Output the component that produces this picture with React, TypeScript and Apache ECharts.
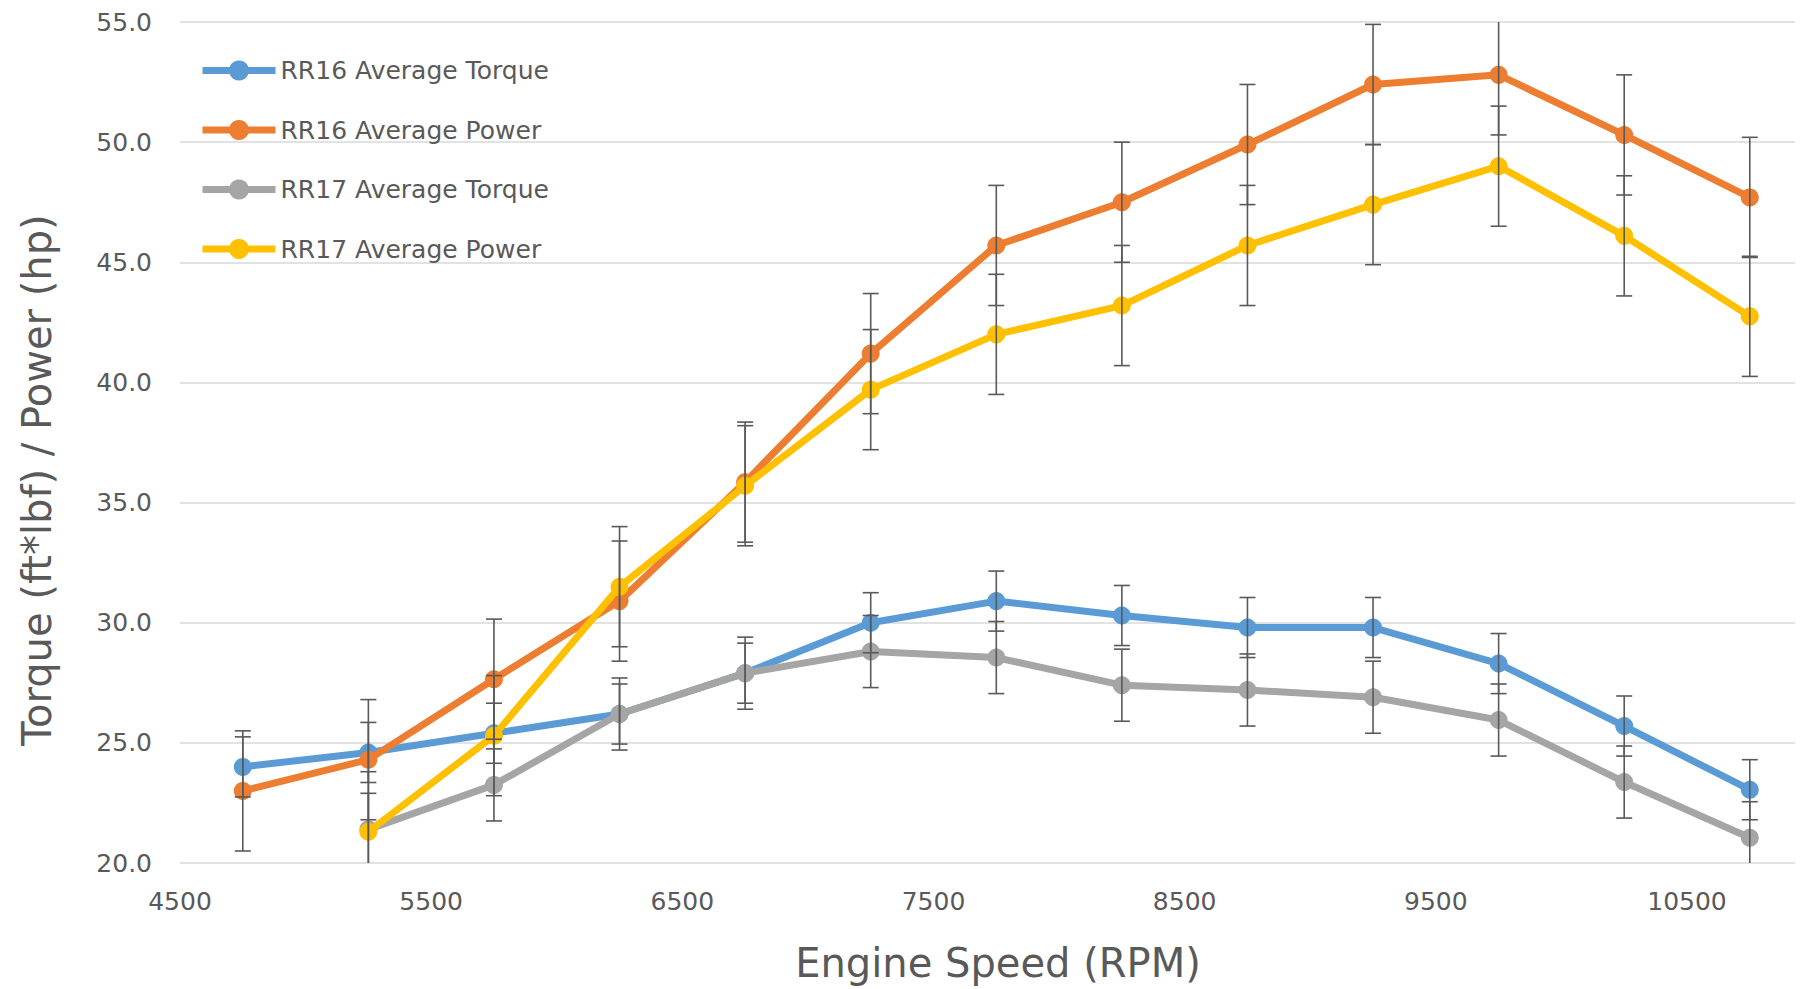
import React, { useEffect, useRef } from "react";
import * as echarts from "echarts";

// Engine speed (RPM) of each measured point
const rpm = [4750, 5250, 5750, 6250, 6750, 7250, 7750, 8250, 8750, 9250, 9750, 10250, 10750];

// Series values (null = no measurement)
const rr16Torque = [24.0, 24.6, 25.4, 26.2, 27.9, 30.0, 30.9, 30.3, 29.8, 29.8, 28.3, 25.7, 23.05];
const rr16Power = [23.0, 24.3, 27.65, 30.9, 35.85, 41.2, 45.7, 47.5, 49.9, 52.4, 52.8, 50.3, 47.7];
const rr17Torque = [null, 21.4, 23.25, 26.2, 27.9, 28.8, 28.55, 27.4, 27.2, 26.9, 25.95, 23.37, 21.05];
const rr17Power = [null, 21.3, 25.3, 31.5, 35.7, 39.7, 42.0, 43.2, 45.7, 47.4, 49.0, 46.1, 42.75];

// Error bar half-lengths
const rr16TorqueErr = [1.25, 1.25, 1.25, 1.25, 1.25, 1.25, 1.25, 1.25, 1.25, 1.25, 1.25, 1.25, 1.25];
const rr16PowerErr = [2.5, 2.5, 2.5, 2.5, 2.5, 2.5, 2.5, 2.5, 2.5, 2.5, 2.5, 2.5, 2.5];
const rr17TorqueErr = [null, 1.5, 1.5, 1.5, 1.5, 1.5, 1.5, 1.5, 1.5, 1.5, 1.5, 1.5, 1.5];
const rr17PowerErr = [null, 2.5, 2.5, 2.5, 2.5, 2.5, 2.5, 2.5, 2.5, 2.5, 2.5, 2.5, 2.5];

const seriesNames = ["RR16 Average Torque", "RR16 Average Power", "RR17 Average Torque", "RR17 Average Power"];
const seriesColors = ["#5B9BD5", "#ED7D31", "#A5A5A5", "#FFC000"];

const yTicks = { min: 20, max: 55, interval: 5 };
const xTicks = { min: 4500, max: 10930, interval: 1000 };

const xTitle = "Engine Speed (RPM)";
const yTitle = "Torque (ft*lbf) / Power (hp)";

const FONT = "DejaVu Sans";
const TEXT = "#595959";

export default function App() {
  const ref = useRef<HTMLDivElement>(null);

  useEffect(() => {
    if (!ref.current) return;
    const chart = echarts.init(ref.current, null, { renderer: "svg" });

    const values = [rr16Torque, rr16Power, rr17Torque, rr17Power];
    const errs = [rr16TorqueErr, rr16PowerErr, rr17TorqueErr, rr17PowerErr];

    const lineSeries = values.map((vals, s) => ({
      type: "line",
      name: seriesNames[s],
      data: rpm
        .map((x, i) => [x, vals[i]])
        .filter((p) => p[1] !== null && p[1] !== undefined),
      symbol: "circle",
      symbolSize: 18,
      showSymbol: true,
      lineStyle: { width: 7, color: seriesColors[s] },
      itemStyle: { color: seriesColors[s] },
      z: 2 + s * 0.1,
    }));

    const errSeries = values.map((vals, s) => ({
      type: "custom",
      name: seriesNames[s] + " error",
      clip: true,
      z: 5,
      encode: { x: 0, y: [1, 2] },
      data: rpm
        .map((x, i) =>
          vals[i] === null || errs[s][i] === null
            ? null
            : [x, (vals[i] as number) - (errs[s][i] as number), (vals[i] as number) + (errs[s][i] as number)]
        )
        .filter((d) => d !== null),
      renderItem: (params: any, api: any) => {
        const x = api.value(0);
        const lo = api.coord([x, api.value(1)]);
        const hi = api.coord([x, api.value(2)]);
        const hw = 8;
        const style = { stroke: "#595959", lineWidth: 1.6 };
        return {
          type: "group",
          children: [
            { type: "line", shape: { x1: hi[0], y1: hi[1], x2: lo[0], y2: lo[1] }, style },
            { type: "line", shape: { x1: hi[0] - hw, y1: hi[1], x2: hi[0] + hw, y2: hi[1] }, style },
            { type: "line", shape: { x1: lo[0] - hw, y1: lo[1], x2: lo[0] + hw, y2: lo[1] }, style },
          ],
        };
      },
    }));

    chart.setOption({
      animation: false,
      backgroundColor: "#ffffff",
      textStyle: { fontFamily: FONT },
      grid: { left: 180, right: 7, top: 22, bottom: 126, containLabel: false },
      legend: {
        data: seriesNames,
        orient: "vertical",
        left: 199,
        top: 58,
        padding: 0,
        itemWidth: 73,
        itemHeight: 25,
        itemGap: 34.5,
        lineStyle: { width: 7 },
        textStyle: { fontFamily: FONT, fontSize: 25, color: TEXT },
      },
      xAxis: {
        type: "value",
        min: xTicks.min,
        max: xTicks.max,
        interval: xTicks.interval,
        axisLine: { show: false },
        axisTick: { show: false },
        splitLine: { show: false },
        axisLabel: {
          margin: 26,
          fontFamily: FONT,
          fontSize: 25,
          color: TEXT,
          showMaxLabel: false,
          formatter: (v: number) => ((v - xTicks.min) % xTicks.interval === 0 ? String(v) : ""),
        },
      },
      yAxis: {
        type: "value",
        min: yTicks.min,
        max: yTicks.max,
        interval: yTicks.interval,
        axisLine: { show: false },
        axisTick: { show: false },
        splitLine: { show: true, lineStyle: { color: "#D9D9D9", width: 1.5 } },
        axisLabel: {
          margin: 28,
          fontFamily: FONT,
          fontSize: 25,
          color: TEXT,
          formatter: (v: number) => v.toFixed(1),
        },
      },
      graphic: [
        {
          type: "text",
          x: 998,
          y: 963,
          style: {
            text: xTitle,
            fontFamily: FONT,
            fontSize: 40,
            fill: TEXT,
            textAlign: "center",
            textVerticalAlign: "middle",
          },
        },
        {
          type: "text",
          x: 37,
          y: 480,
          rotation: Math.PI / 2,
          style: {
            text: yTitle,
            fontFamily: FONT,
            fontSize: 40,
            fill: TEXT,
            textAlign: "center",
            textVerticalAlign: "middle",
          },
        },
      ],
      series: [...lineSeries, ...errSeries],
    });

    return () => chart.dispose();
  }, []);

  return (
    <div
      ref={ref}
      style={{ position: "absolute", left: 0, top: 0, width: 1802, height: 989, background: "#fff" }}
    />
  );
}
